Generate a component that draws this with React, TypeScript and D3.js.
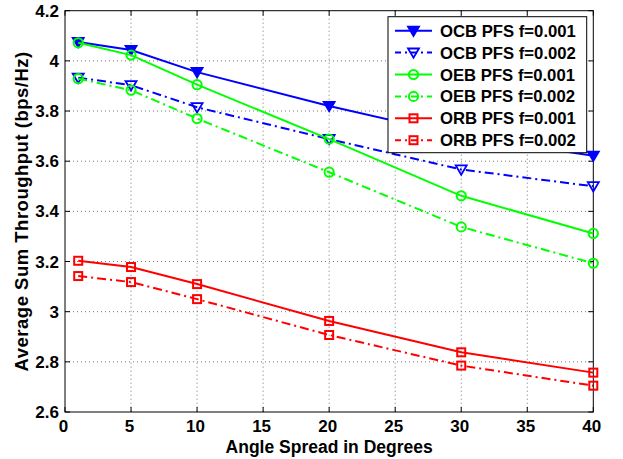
import React from "react";
import * as d3 from "d3";

const angles = [1, 5, 10, 20, 30, 40];
const ocb001 = [4.075, 4.043, 3.955, 3.82, 3.7, 3.622];
const ocb002 = [3.933, 3.903, 3.815, 3.688, 3.567, 3.5];
const oeb001 = [4.072, 4.023, 3.905, 3.688, 3.462, 3.312];
const oeb002 = [3.929, 3.883, 3.77, 3.556, 3.338, 3.193];
const orb001 = [3.203, 3.178, 3.11, 2.963, 2.838, 2.757];
const orb002 = [3.142, 3.118, 3.05, 2.907, 2.785, 2.705];

const xTicks = [0, 5, 10, 15, 20, 25, 30, 35, 40];
const yTicks = [2.6, 2.8, 3, 3.2, 3.4, 3.6, 3.8, 4, 4.2];

type Marker = "tri" | "circle" | "square";
const series = [
  { name: "OCB PFS f=0.001", values: ocb001, color: "#0000ff", dash: false, marker: "tri" as Marker, filled: true },
  { name: "OCB PFS f=0.002", values: ocb002, color: "#0000ff", dash: true, marker: "tri" as Marker, filled: false },
  { name: "OEB PFS f=0.001", values: oeb001, color: "#00ff00", dash: false, marker: "circle" as Marker, filled: false },
  { name: "OEB PFS f=0.002", values: oeb002, color: "#00ff00", dash: true, marker: "circle" as Marker, filled: false },
  { name: "ORB PFS f=0.001", values: orb001, color: "#ff0000", dash: false, marker: "square" as Marker, filled: false },
  { name: "ORB PFS f=0.002", values: orb002, color: "#ff0000", dash: true, marker: "square" as Marker, filled: false },
];

const W = 623;
const H = 459;
const m = { left: 65, right: 593.3, top: 10.7, bottom: 412 };
const font = "'Liberation Sans', Arial, Helvetica, sans-serif";
const DASH = "9,4,2,4";

function MarkerShape({ type, x, y, color, filled }: { type: Marker; x: number; y: number; color: string; filled: boolean }) {
  if (type === "tri") {
    const s = 5.5;
    const pts = `${x - s},${y - s * 0.75} ${x + s},${y - s * 0.75} ${x},${y + s * 0.95}`;
    return <polygon points={pts} fill={filled ? color : "none"} stroke={color} strokeWidth={1.8} />;
  }
  if (type === "circle") {
    return <circle cx={x} cy={y} r={4.6} fill="none" stroke={color} strokeWidth={2} />;
  }
  return <rect x={x - 4} y={y - 4} width={8} height={8} fill="none" stroke={color} strokeWidth={2} />;
}

export default function App() {
  const x = d3.scaleLinear().domain([0, 40]).range([m.left, m.right]);
  const y = d3.scaleLinear().domain([2.6, 4.2]).range([m.bottom, m.top]);
  const line = d3
    .line<number>()
    .x((_, i) => x(angles[i]))
    .y((d) => y(d));

  const legX = 388;
  const legY = 16.7;
  const legW = 198.7;
  const legH = 136;
  const rowH = 21.9;

  return (
    <div style={{ position: "absolute", left: 0, top: 0 }}>
      <svg width={W} height={H} style={{ display: "block", background: "#fff" }}>
        <rect x={0} y={0} width={W} height={H} fill="#fff" />
        {/* grid */}
        <g stroke="#777" strokeWidth={1} strokeDasharray="1,3">
          {xTicks.slice(1, -1).map((t) => (
            <line key={"gx" + t} x1={x(t)} x2={x(t)} y1={m.top} y2={m.bottom} />
          ))}
          {yTicks.slice(1, -1).map((t) => (
            <line key={"gy" + t} x1={m.left} x2={m.right} y1={y(t)} y2={y(t)} />
          ))}
        </g>
        {/* box */}
        <rect x={m.left} y={m.top} width={m.right - m.left} height={m.bottom - m.top} fill="none" stroke="#000" strokeWidth={1} />
        {/* ticks */}
        <g stroke="#000" strokeWidth={1}>
          {xTicks.map((t) => (
            <g key={"tx" + t}>
              <line x1={x(t)} x2={x(t)} y1={m.bottom} y2={m.bottom - 5} />
              <line x1={x(t)} x2={x(t)} y1={m.top} y2={m.top + 5} />
            </g>
          ))}
          {yTicks.map((t) => (
            <g key={"ty" + t}>
              <line x1={m.left} x2={m.left + 5} y1={y(t)} y2={y(t)} />
              <line x1={m.right} x2={m.right - 5} y1={y(t)} y2={y(t)} />
            </g>
          ))}
        </g>
        {/* tick labels */}
        <g fontFamily={font} fontWeight="bold" fontSize={17} fill="#000">
          {xTicks.map((t) => (
            <text key={"lx" + t} x={x(t) - 1.5} y={432} textAnchor="middle">
              {t}
            </text>
          ))}
          {yTicks.map((t) => (
            <text key={"ly" + t} x={m.left - 6} y={y(t) + 6} textAnchor="end">
              {d3.format("~g")(t)}
            </text>
          ))}
        </g>
        <text x={(m.left + m.right) / 2} y={453} textAnchor="middle" fontFamily={font} fontWeight="bold" fontSize={17.5}>
          Angle Spread in Degrees
        </text>
        <text
          transform={`translate(28,${(m.top + m.bottom) / 2}) rotate(-90)`}
          textAnchor="middle"
          fontFamily={font}
          fontWeight="bold"
          fontSize={18.5}
          letterSpacing={0.5}
        >
          Average Sum Throughput (bps/Hz)
        </text>
        {/* series */}
        {series.map((s) => (
          <g key={s.name}>
            <path d={line(s.values) || ""} fill="none" stroke={s.color} strokeWidth={2} strokeDasharray={s.dash ? DASH : undefined} />
            {s.values.map((v, i) => (
              <MarkerShape key={i} type={s.marker} x={x(angles[i])} y={y(v)} color={s.color} filled={s.filled} />
            ))}
          </g>
        ))}
        {/* legend */}
        <rect x={legX} y={legY} width={legW} height={legH} fill="#fff" stroke="#000" strokeWidth={1} />
        {series.map((s, i) => {
          const cy = legY + 14 + i * rowH;
          return (
            <g key={"leg" + s.name}>
              <line x1={legX + 7} x2={legX + 44} y1={cy} y2={cy} stroke={s.color} strokeWidth={2} strokeDasharray={s.dash ? "6,4,2,4" : undefined} />
              <MarkerShape type={s.marker} x={legX + 25.5} y={cy} color={s.color} filled={s.filled} />
              <text x={legX + 52} y={cy + 6} fontFamily={font} fontWeight="bold" fontSize={16.7}>
                {s.name}
              </text>
            </g>
          );
        })}
      </svg>
    </div>
  );
}
